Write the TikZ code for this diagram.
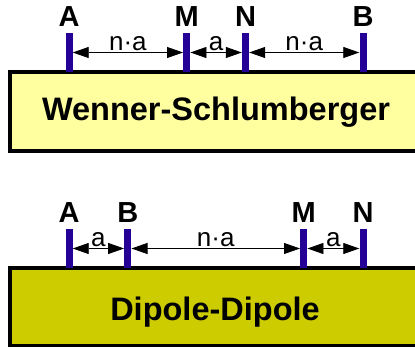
\documentclass[tikz,border=0pt]{standalone}
\usepackage{fontspec}
\setmainfont{Liberation Sans}
\usetikzlibrary{arrows.meta, positioning}
\definecolor{electrodeblue}{RGB}{36,0,150}
\definecolor{wsfill}{RGB}{255,255,160}
\definecolor{ddfill}{RGB}{204,204,0}
\tikzset{
  electrode/.style={rectangle, fill=electrodeblue, draw=none, minimum width=7pt, minimum height=39pt, inner sep=0pt},
  eletter/.style={font=\fontsize{29}{29}\selectfont\bfseries, inner sep=0pt},
  dim/.style={{Triangle[length=16pt,width=11pt]}-{Triangle[length=16pt,width=11pt]}, line width=0.8pt},
  spacing/.style={font=\fontsize{26}{26}\selectfont, inner sep=1.5pt, above},
  ground/.style={line width=3.5pt},
  arrayname/.style={font=\fontsize{32.5}{32.5}\selectfont\bfseries, anchor=base, inner sep=0pt}
}

\begin{document}
\begin{tikzpicture}[x=1pt, y=-1pt]
  \useasboundingbox (0,0) rectangle (415,347);
  \clip (0,0) rectangle (415,347);

  \draw[ground, fill=wsfill] (10,72) rectangle (430,151);
  \draw[ground, fill=ddfill] (10,268) rectangle (430,346);

  \node[arrayname] (ws) at (216,121) {Wenner-Schlumberger};
  \node[arrayname] (dd) at (215,320) {Dipole-Dipole};

  \node[electrode] (wA) at (69, 52.5) {};
  \node[electrode] (wM) at (186.7, 52.5) {};
  \node[electrode] (wN) at (245.5, 52.5) {};
  \node[electrode] (wB) at (363, 52.5) {};

  \node[eletter, above=6.5pt of wA] (lwA) {A};
  \node[eletter, above=6.5pt of wM] (lwM) {M};
  \node[eletter, above=6.5pt of wN] (lwN) {N};
  \node[eletter, above=6.5pt of wB] (lwB) {B};

  \draw[dim] (wA.east) -- node[spacing] {n·a} (wM.west);
  \draw[dim] (wM.east) -- node[spacing] {a} (wN.west);
  \draw[dim] (wN.east) -- node[spacing] {n·a} (wB.west);

  \node[electrode] (dA) at (69, 248.5) {};
  \node[electrode] (dB) at (127.8, 248.5) {};
  \node[electrode] (dM) at (303.7, 248.5) {};
  \node[electrode] (dN) at (363, 248.5) {};

  \node[eletter, above=6pt of dA] (ldA) {A};
  \node[eletter, above=6pt of dB] (ldB) {B};
  \node[eletter, above=6pt of dM] (ldM) {M};
  \node[eletter, above=6pt of dN] (ldN) {N};

  \draw[dim] (dA.east) -- node[spacing] {a} (dB.west);
  \draw[dim] (dB.east) -- node[spacing] {n·a} (dM.west);
  \draw[dim] (dM.east) -- node[spacing] {a} (dN.west);
\end{tikzpicture}
\end{document}
